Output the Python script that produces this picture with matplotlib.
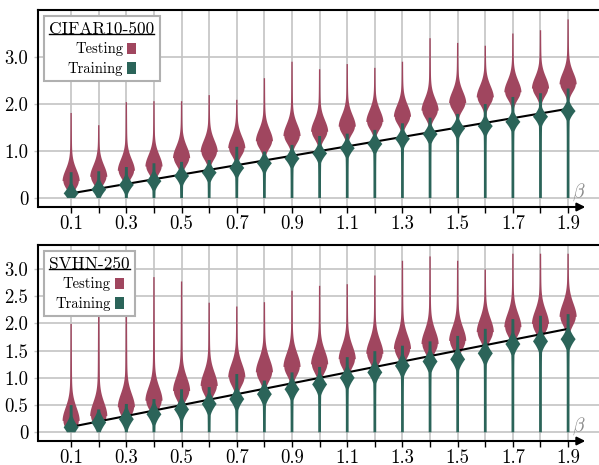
import numpy as np
import matplotlib
matplotlib.use('Agg')
import matplotlib.pyplot as plt
from matplotlib.patches import Patch
from matplotlib.lines import Line2D

plt.rcParams['font.family'] = 'serif'
plt.rcParams['font.serif'] = ['cmr10']
plt.rcParams['mathtext.fontset'] = 'cm'
plt.rcParams['axes.unicode_minus'] = False
plt.rcParams['axes.formatter.use_mathtext'] = True

# beta values (x positions)
betas = [0.1, 0.2, 0.3, 0.4, 0.5, 0.6, 0.7, 0.8, 0.9, 1.0,
         1.1, 1.2, 1.3, 1.4, 1.5, 1.6, 1.7, 1.8, 1.9]

# CIFAR10-500 (top panel)
cifar_test_max = [1.81, 1.55, 2.04, 2.06, 2.06, 2.19, 2.09, 2.55, 2.90, 2.74,
                  2.85, 2.77, 2.90, 3.40, 3.30, 3.24, 3.50, 3.57, 3.80]
cifar_test_mode = [0.36, 0.45, 0.58, 0.67, 0.85, 0.98, 1.06, 1.21, 1.32, 1.41,
                   1.52, 1.62, 1.73, 1.86, 2.02, 2.14, 2.25, 2.33, 2.42]
cifar_test_min = [0.05, 0.12, 0.20, 0.28, 0.38, 0.45, 0.55, 0.62, 0.72, 0.80,
                  0.90, 1.00, 1.10, 1.20, 1.30, 1.40, 1.50, 1.60, 1.70]
cifar_train_mode = [0.10, 0.18, 0.28, 0.36, 0.47, 0.54, 0.64, 0.74, 0.84, 0.95,
                    1.06, 1.15, 1.26, 1.36, 1.48, 1.53, 1.62, 1.73, 1.85]
cifar_train_max = [0.55, 0.57, 0.66, 0.74, 0.77, 0.81, 1.09, 0.99, 1.13, 1.32,
                   1.37, 1.45, 1.59, 1.71, 1.79, 2.00, 2.15, 2.23, 2.33]

# SVHN-250 (bottom panel)
svhn_test_max = [1.99, 2.60, 2.50, 2.85, 2.77, 2.38, 2.31, 2.39, 2.60, 2.69,
                 2.72, 2.88, 3.15, 3.23, 3.15, 2.99, 3.28, 3.28, 3.28]
svhn_test_mode = [0.21, 0.30, 0.46, 0.58, 0.76, 0.85, 1.01, 1.10, 1.20, 1.25,
                  1.34, 1.44, 1.53, 1.62, 1.68, 1.84, 1.93, 1.99, 2.12]
svhn_test_min = [0.03, 0.10, 0.17, 0.25, 0.34, 0.44, 0.53, 0.62, 0.71, 0.80,
                 0.92, 1.02, 1.14, 1.22, 1.26, 1.37, 1.54, 1.59, 1.63]
svhn_train_mode = [0.09, 0.18, 0.24, 0.33, 0.42, 0.52, 0.61, 0.70, 0.79, 0.88,
                   1.00, 1.10, 1.22, 1.30, 1.34, 1.45, 1.62, 1.67, 1.71]
svhn_train_max = [0.50, 0.42, 0.52, 0.61, 0.79, 0.83, 1.07, 0.95, 1.10, 1.20,
                  1.38, 1.49, 1.59, 1.67, 1.77, 1.90, 2.08, 2.14, 2.17]

test_color = '#a0465f'
train_color = '#2b6459'
grid_color = '#c4c4c4'


def test_stats(lo, mode, hi):
    y = np.linspace(lo, hi, 400)
    s = np.where(y >= mode, 0.24, 0.16)
    body = np.exp(-0.5 * ((y - mode) / s) ** 2)
    tail = np.where(y >= mode, 0.12 * np.exp(-(y - mode) / (0.6 * (hi - mode))), 0.0)
    vals = body + tail + 0.07
    return dict(coords=y, vals=vals, mean=mode, median=mode, min=lo, max=hi)


def train_stats(mode, hi):
    y = np.linspace(0.0, hi, 400)
    d = y - mode
    tri = np.clip(1 - np.abs(d) / 0.21, 0, None) ** 1.4
    neck = 0.12 * np.exp(-np.abs(d) / 0.15)
    vals = tri * 0.78 + neck + 0.2
    return dict(coords=y, vals=vals, mean=mode, median=mode, min=0.0, max=hi)


def draw_panel(ax, title, test_lo, test_mode, test_hi, train_mode, train_hi,
               ylim, yticks, yticklabels):
    ax.set_xlim(-0.02, 2.03)
    ax.set_ylim(*ylim)

    st = [test_stats(a, b, c) for a, b, c in zip(test_lo, test_mode, test_hi)]
    vp = ax.violin(st, positions=betas, widths=0.062, showmeans=False,
                   showextrema=False, showmedians=False)
    for b in vp['bodies']:
        b.set_facecolor(test_color)
        b.set_edgecolor('none')
        b.set_alpha(1)
        b.set_zorder(2)

    ax.plot([betas[0], betas[-1]], [betas[0], betas[-1]], color='k', lw=1.5, zorder=3)

    sr = [train_stats(a, b) for a, b in zip(train_mode, train_hi)]
    vp = ax.violin(sr, positions=betas, widths=0.054, showmeans=False,
                   showextrema=False, showmedians=False)
    for b in vp['bodies']:
        b.set_facecolor(train_color)
        b.set_edgecolor('none')
        b.set_alpha(1)
        b.set_zorder(4)

    ax.set_xticks(betas[0::2])
    ax.set_xticklabels(['%.1f' % b for b in betas[0::2]])
    ax.set_xticks(betas[1::2], minor=True)
    ax.set_yticks(yticks)
    ax.set_yticklabels(yticklabels)
    ax.grid(True, which='both', axis='x', color=grid_color, lw=1.2, zorder=0)
    ax.grid(True, which='major', axis='y', color=grid_color, lw=1.2, zorder=0)
    ax.set_axisbelow(True)
    ax.tick_params(axis='x', which='both', length=4, width=1, color='k',
                   labelsize=13.5, pad=1.5)
    ax.tick_params(axis='y', length=3, width=1, color=grid_color, labelsize=13.5, pad=4)

    for side in ['right', 'bottom']:
        ax.spines[side].set_visible(False)
    for side in ['left', 'top']:
        ax.spines[side].set_linewidth(1.5)
    ax.annotate('', xy=(0.967, 0), xytext=(0, 0), xycoords='axes fraction',
                textcoords='axes fraction',
                arrowprops=dict(arrowstyle='-|>', lw=1.5, color='k',
                                mutation_scale=12, shrinkA=0, shrinkB=0))
    ax.text(0.955, 0.075, r'$\beta$', transform=ax.transAxes, color='#8a8a8a',
            fontsize=14, ha='center', va='center')

    handles = [Patch(facecolor=test_color, edgecolor='none', label='Testing'),
               Patch(facecolor=train_color, edgecolor='none', label='Training')]
    leg = ax.legend(handles=handles, title=title, loc='upper left',
                    markerfirst=False, fancybox=False, framealpha=1,
                    edgecolor='#b0b0b0', fontsize=10.5, title_fontsize=12.5,
                    handlelength=0.6, handleheight=0.85, handletextpad=0.3,
                    labelspacing=0.4, borderpad=0.35, borderaxespad=0.42)
    leg.get_frame().set_linewidth(1.5)
    leg.set_zorder(10)
    return leg


fig = plt.figure(figsize=(5.99, 4.65), dpi=100)
ax1 = fig.add_axes([38 / 599, 1 - 207 / 465, 566 / 599, 197 / 465])
ax2 = fig.add_axes([38 / 599, 1 - 441 / 465, 566 / 599, 196 / 465])

leg1 = draw_panel(ax1, 'CIFAR10-500', cifar_test_min, cifar_test_mode, cifar_test_max,
                  cifar_train_mode, cifar_train_max, (-0.19, 4.0),
                  [0, 1, 2, 3], ['0', '1.0', '2.0', '3.0'])
leg2 = draw_panel(ax2, 'SVHN-250', svhn_test_min, svhn_test_mode, svhn_test_max,
                  svhn_train_mode, svhn_train_max, (-0.16, 3.44),
                  [0, 0.5, 1, 1.5, 2, 2.5, 3],
                  ['0', '0.5', '1.0', '1.5', '2.0', '2.5', '3.0'])

# underline the legend titles
fig.canvas.draw()
for leg in [leg1, leg2]:
    bb = leg.get_title().get_window_extent()
    y = (bb.y0 + 3) / fig.bbox.height
    fig.add_artist(Line2D([bb.x0 / fig.bbox.width, bb.x1 / fig.bbox.width], [y, y],
                          color='k', lw=1.0, zorder=20))

fig.savefig('out.png', dpi=100)
